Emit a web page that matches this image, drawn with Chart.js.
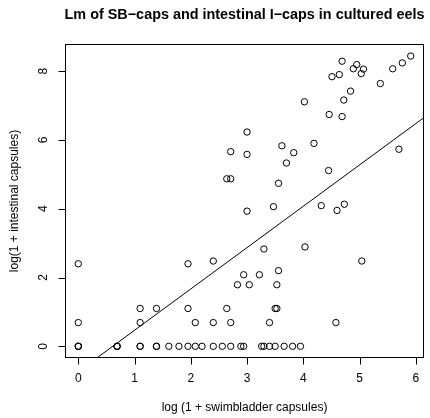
<!DOCTYPE html>
<html><head><meta charset="utf-8">
<script src="https://cdn.jsdelivr.net/npm/chart.js@4/dist/chart.umd.min.js"></script>
<style>html,body{margin:0;padding:0;background:#fff}#wrap{width:430px;height:418px}</style>
</head><body><div id="wrap"><canvas id="c" width="430" height="418"></canvas></div>
<script>
const titleText = "Lm of SB\u2212caps and intestinal I\u2212caps in cultured eels";
const xTitle = "log (1 + swimbladder capsules)";
const yTitle = "log(1 + intestinal capsules)";
const xTicks = [0, 1, 2, 3, 4, 5, 6];
const yTicks = [0, 2, 4, 6, 8];
const xRange = [-0.236, 6.146];
const yRange = [-0.34, 8.79];

// log(1 + swimbladder capsules)
const sbCaps = [
  0, 0, 0, 0, 0,
  0.69, 0.69, 0.69,
  1.10, 1.39, 1.10, 1.10, 1.10, 1.39, 1.39,
  1.61, 1.79, 1.95, 2.08, 2.20, 2.40, 2.56, 2.71, 2.89, 2.94, 3.26, 3.30, 3.40, 3.50, 3.66, 3.81, 3.95,
  1.95, 2.40, 1.95, 2.64, 2.08, 2.40, 2.71,
  2.83, 3.04, 3.53, 2.94, 3.22, 3.56,
  3.50, 3.53, 3.40, 4.58,
  3.30, 4.03, 5.04,
  3.00, 3.47, 4.32, 4.60, 4.73,
  2.64, 2.71, 3.56, 4.45,
  2.71, 3.00, 3.00, 3.62, 3.83, 3.70, 4.19, 5.70,
  4.02, 4.46, 4.69, 4.72, 4.84,
  4.51, 4.64, 4.69, 4.95, 4.89, 5.07, 5.03, 5.37, 5.59, 5.76, 5.91
];
// log(1 + intestinal capsules)
const iCaps = [
  2.40, 0.69, 0, 0, 0,
  0, 0, 0,
  1.10, 1.10, 0.69, 0, 0, 0, 0,
  0, 0, 0, 0, 0, 0, 0, 0, 0, 0, 0, 0, 0, 0, 0, 0, 0,
  2.40, 2.48, 1.10, 1.10, 0.69, 0.69, 0.69,
  1.79, 1.79, 1.79, 2.08, 2.08, 2.20,
  1.10, 1.10, 0.69, 0.69,
  2.83, 2.89, 2.48,
  3.93, 4.06, 4.09, 3.95, 4.13,
  4.87, 4.87, 4.74, 5.11,
  5.66, 5.58, 6.23, 5.83, 5.63, 5.33, 5.90, 5.73,
  7.11, 6.74, 6.68, 7.16, 7.42,
  7.84, 7.90, 8.29, 8.19, 8.07, 8.06, 7.93, 7.64, 8.07, 8.24, 8.44
];
const lmIntercept = -0.736;
const lmSlope = 1.202;

const points = sbCaps.map((x, i) => ({ x: x, y: iCaps[i] }));
const fitLine = xRange.map(x => ({ x: x, y: lmIntercept + lmSlope * x }));

const FONT = '"Liberation Sans", Arial, Helvetica, sans-serif';

const rAxes = {
  id: 'rAxes',
  afterDraw(chart) {
    const ctx = chart.ctx;
    const a = chart.chartArea;
    const xs = chart.scales.x, ys = chart.scales.y;
    ctx.save();
    ctx.strokeStyle = '#000';
    ctx.lineWidth = 1;
    // box
    ctx.strokeRect(Math.round(a.left) + 0.5, Math.round(a.top) + 0.5,
      Math.round(a.right - a.left) - 1, Math.round(a.bottom - a.top) - 1);
    const bx = Math.round(a.bottom) - 0.5;
    const lx = Math.round(a.left) + 0.5;
    // ticks
    ctx.beginPath();
    xTicks.forEach(v => {
      const px = Math.round(xs.getPixelForValue(v)) + 0.5;
      ctx.moveTo(px, bx); ctx.lineTo(px, bx + 7);
    });
    yTicks.forEach(v => {
      const py = Math.round(ys.getPixelForValue(v)) + 0.5;
      ctx.moveTo(lx, py); ctx.lineTo(lx - 7, py);
    });
    ctx.stroke();
    ctx.fillStyle = '#000';
    ctx.font = '12px ' + FONT;
    ctx.textAlign = 'center';
    ctx.textBaseline = 'middle';
    xTicks.forEach(v => {
      ctx.fillText(String(v), xs.getPixelForValue(v), a.bottom + 21);
    });
    yTicks.forEach(v => {
      ctx.save();
      ctx.translate(a.left - 21, ys.getPixelForValue(v));
      ctx.rotate(-Math.PI / 2);
      ctx.fillText(String(v), 0, 0);
      ctx.restore();
    });
    ctx.fillText(xTitle, (a.left + a.right) / 2, a.bottom + 50);
    ctx.save();
    ctx.translate(a.left - 50, (a.top + a.bottom) / 2);
    ctx.rotate(-Math.PI / 2);
    ctx.fillText(yTitle, 0, 0);
    ctx.restore();
    ctx.font = 'bold 14.4px ' + FONT;
    ctx.fillText(titleText, (a.left + a.right) / 2, 15);
    ctx.restore();
  }
};

new Chart(document.getElementById('c'), {
  type: 'scatter',
  data: {
    datasets: [
      {
        data: points,
        pointStyle: 'circle',
        pointRadius: 3.2,
        pointHoverRadius: 3.2,
        pointBorderWidth: 1,
        pointBorderColor: '#000',
        pointBackgroundColor: 'rgba(0,0,0,0)',
        showLine: false
      },
      {
        data: fitLine,
        showLine: true,
        borderColor: '#000',
        borderWidth: 1,
        pointRadius: 0,
        fill: false
      }
    ]
  },
  options: {
    responsive: false,
    animation: false,
    devicePixelRatio: 1,
    layout: { padding: { left: 65, right: 6, top: 44, bottom: 60 } },
    plugins: { legend: { display: false }, tooltip: { enabled: false }, title: { display: false } },
    scales: {
      x: { type: 'linear', display: false, min: xRange[0], max: xRange[1] },
      y: { type: 'linear', display: false, min: yRange[0], max: yRange[1] }
    }
  },
  plugins: [rAxes]
});
</script>
</body></html>
